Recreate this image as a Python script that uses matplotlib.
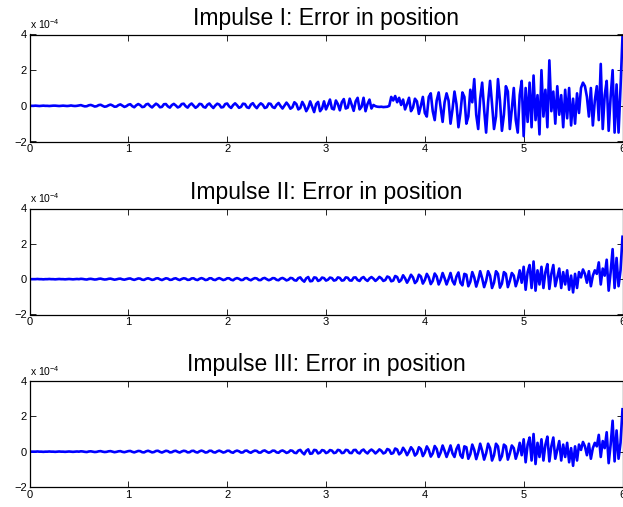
import matplotlib
matplotlib.use("Agg")
import matplotlib.pyplot as plt
import numpy as np

plt.rcParams['font.family'] = ['Liberation Sans', 'DejaVu Sans']

# time axis, step 0.02 s
t = np.linspace(0, 6, 301)

titles = ["Impulse I: Error in position",
          "Impulse II: Error in position",
          "Impulse III: Error in position"]
xticks = [0, 1, 2, 3, 4, 5, 6]
yticks = [-2, 0, 2, 4]

# errors in units of 1e-4
err1 = [
    0, 0, 0, 0.01, 0, -0.01, 0, 0.01, 0, 0, -0.01, 0, 0.01, 0.01, 0, -0.01, 0, 0.01, 0, -0.01, 0, 0.02, 0, -0.01, 0,
    0.02, 0.04, 0, -0.03, -0.02, 0.03, 0.05, 0.01, -0.04, -0.02, 0.04, 0.06, 0, -0.05, -0.03, 0.03, 0.07, 0.02, -0.05, -0.04, 0.04, 0.08, 0.01, -0.06, -0.02,
    0.06, 0.09, -0.02, -0.08, 0.03, 0.1, 0.04, -0.07, -0.05, 0.08, 0.11, -0.01, -0.09, 0.02, 0.12, 0.05, -0.08, -0.06, 0.09, 0.1, -0.03, -0.1, 0.04, 0.11, 0.02,
    -0.09, -0.04, 0.1, 0.12, -0.02, -0.1, 0.05, 0.13, 0.01, -0.11, -0.03, 0.11, 0.09, -0.06, -0.1, 0.06, 0.13, -0.01, -0.12, 0.02, 0.12, 0.07, -0.09, -0.07, 0.1,
    0.13, -0.03, -0.12, 0.04, 0.14, 0.03, -0.11, -0.06, 0.12, 0.1, -0.08, -0.12, 0.07, 0.15, -0.02, -0.13, 0.03, 0.14, 0.06, -0.12, -0.08, 0.13, 0.11, -0.07, -0.12,
    0.06, 0.16, -0.01, -0.15, 0.02, 0.18, 0.04, -0.16, -0.08, 0.2, 0.1, -0.2, -0.12, 0.22, 0.02, -0.3, -0.1, 0.25, -0.05, -0.35, 0.1, 0.22, -0.3, -0.15, 0.25,
    -0.2, 0.05, 0.35, -0.15, -0.2, 0.3, 0.1, -0.25, 0.2, 0.38, -0.15, -0.1, 0.4, 0.05, -0.28, 0.25, 0.45, -0.2, -0.05, 0.45, -0.3, 0.1, 0.35, -0.15, 0.05,
    -0.02, -0.05, -0.06, -0.05, -0.07, -0.06, -0.05, 0.0, 0.5, 0.3, 0.55, 0.2, 0.45, 0.05, 0.35, -0.2, 0.1, 0.45, -0.3, -0.1, 0.4, 0.25, -0.45, 0.0, 0.5,
    -0.4, -0.6, 0.5, 0.7, -0.3, -0.8, 0.3, 0.75, -0.1, -0.9, 0.2, 0.7, 0.3, -1.0, -0.2, 0.8, 0.1, -1.2, -0.4, 0.75, 0.5, -1.0, -0.6, 0.9, 0.2,
    1.5, -0.5, -1.3, 0.4, 1.3, -0.2, -1.5, 0.2, 1.4, 0.1, -1.3, -0.6, 1.5, 0.3, -1.4, -0.5, 1.1, 0.8, -1.3, -0.2, 1.0, -0.8, -1.5, 0.6, 1.4,
    -1.7, 1.0, -0.9, 1.3, -1.2, 1.7, -0.8, 0.6, -1.6, 2.0, -0.6, 0.9, -1.2, 2.55, -0.3, 0.8, -1.0, 1.1, -0.5, 0.6, -1.2, 0.9, -0.7, 1.0, -1.1,
    0.4, -1.0, 0.7, -0.4, 1.0, 1.3, 1.1, 0.5, -0.6, 1.0, -1.1, 0.3, 1.1, -0.8, 2.35, -1.3, 0.6, 1.4, -1.4, 0.5, 2.0, -1.5, 1.2, -1.5, 1.0,
    3.9,
]

err2 = [
    0, 0, 0, 0, 0.01, 0, 0, -0.01, 0, 0, 0.01, 0, 0, -0.01, 0, 0.01, 0, 0, -0.01, 0, 0.01, 0, -0.01, 0, 0.01,
    0, 0.02, 0.01, -0.01, -0.02, 0.01, 0.02, 0, -0.02, -0.01, 0.02, 0.03, 0, -0.02, -0.01, 0.02, 0.03, 0, -0.03, -0.01, 0.02, 0.03, -0.01, -0.03, 0,
    0.03, 0.04, -0.01, -0.04, 0, 0.04, 0.03, -0.03, -0.04, 0.02, 0.05, 0.01, -0.04, -0.02, 0.04, 0.05, -0.01, -0.05, 0, 0.05, 0.03, -0.04, -0.03, 0.03, 0.05,
    -0.01, -0.05, 0.01, 0.05, 0.03, -0.04, -0.03, 0.04, 0.05, -0.02, -0.05, 0.02, 0.06, 0.02, -0.05, -0.03, 0.05, 0.05, -0.03, -0.05, 0.02, 0.06, 0.01, -0.05, -0.02,
    0.05, 0.05, -0.03, -0.06, 0.02, 0.06, 0.02, -0.05, -0.04, 0.05, 0.06, -0.02, -0.06, 0.01, 0.06, 0.04, -0.05, -0.05, 0.04, 0.07, 0, -0.06, -0.02, 0.06, 0.05,
    -0.04, -0.06, 0.03, 0.07, 0.01, -0.07, -0.03, 0.07, 0.05, -0.06, -0.08, 0.06, 0.1, -0.05, -0.14, 0.05, 0.12, -0.12, -0.1, 0.1, 0.08, -0.1, -0.05, 0.09, 0.06,
    -0.08, -0.03, 0.09, 0.06, -0.08, -0.05, 0.1, 0.07, -0.08, -0.06, 0.1, 0.08, -0.07, -0.08, 0.09, 0.1, -0.05, -0.1, 0.06, 0.12, -0.02, -0.1, 0.04, 0.12, 0.03,
    -0.1, 0.0, 0.13, 0.05, -0.1, -0.05, 0.15, 0.1, -0.12, -0.08, 0.18, 0.12, -0.15, -0.05, 0.22, 0.05, -0.2, 0.0, 0.25, 0.1, -0.22, -0.1, 0.25, 0.15, -0.25,
    -0.05, 0.3, 0.1, -0.28, -0.1, 0.32, 0.15, -0.3, -0.05, 0.35, 0.05, -0.3, 0.0, 0.35, -0.1, -0.3, 0.15, 0.38, -0.2, -0.35, 0.3, 0.25, -0.4, -0.15, 0.4,
    0.1, -0.42, -0.05, 0.45, 0.05, -0.45, -0.1, 0.45, 0.2, -0.5, -0.2, 0.45, 0.3, -0.48, -0.25, 0.4, 0.3, -0.45, -0.1, 0.35, 0.2, -0.4, -0.05, 0.5, -0.2,
    0.7, -0.6, 0.4, 0.8, -0.5, 1.0, -0.65, 0.5, -0.3, 0.7, -0.5, 0.4, 0.85, -0.55, 0.3, 0.8, -0.4, 0.1, 0.6, -0.5, 0.4, -0.3, 0.5, -0.6, 0.2,
    -0.75, 0.3, -0.5, 0.4, 0.1, 0.55, 0.3, -0.2, 0.45, -0.4, 0.2, 0.5, 0.3, 0.95, -0.3, 0.6, 0.2, 1.1, -0.65, 0.4, 1.7, -0.5, 1.2, -0.4, 0.5,
    2.4,
]

err3 = [
    0, 0, 0, 0, 0.01, 0, 0, -0.01, 0, 0, 0.01, 0, 0, -0.01, 0, 0.01, 0, 0, -0.01, 0, 0.01, 0, -0.01, 0, 0.01,
    0, 0.02, 0.01, -0.01, -0.02, 0.01, 0.02, 0, -0.02, -0.01, 0.02, 0.03, 0, -0.02, -0.01, 0.02, 0.03, 0, -0.03, -0.01, 0.02, 0.03, -0.01, -0.03, 0,
    0.03, 0.04, -0.01, -0.04, 0, 0.04, 0.03, -0.03, -0.04, 0.02, 0.05, 0.01, -0.04, -0.02, 0.04, 0.05, -0.01, -0.05, 0, 0.05, 0.03, -0.04, -0.03, 0.03, 0.05,
    -0.01, -0.05, 0.01, 0.05, 0.03, -0.04, -0.03, 0.04, 0.05, -0.02, -0.05, 0.02, 0.06, 0.02, -0.05, -0.03, 0.05, 0.05, -0.03, -0.05, 0.02, 0.06, 0.01, -0.05, -0.02,
    0.05, 0.05, -0.03, -0.06, 0.02, 0.06, 0.02, -0.05, -0.04, 0.05, 0.06, -0.02, -0.06, 0.01, 0.06, 0.04, -0.05, -0.05, 0.04, 0.07, 0, -0.06, -0.02, 0.06, 0.05,
    -0.04, -0.06, 0.03, 0.07, 0.01, -0.07, -0.03, 0.07, 0.05, -0.06, -0.08, 0.06, 0.1, -0.05, -0.15, 0.05, 0.13, -0.12, -0.1, 0.1, 0.08, -0.1, -0.05, 0.09, 0.06,
    -0.08, -0.03, 0.09, 0.06, -0.08, -0.05, 0.1, 0.07, -0.08, -0.06, 0.1, 0.08, -0.07, -0.08, 0.09, 0.1, -0.05, -0.1, 0.06, 0.12, -0.02, -0.1, 0.04, 0.12, 0.03,
    -0.1, 0.0, 0.13, 0.05, -0.1, -0.05, 0.15, 0.1, -0.12, -0.08, 0.18, 0.12, -0.15, -0.05, 0.22, 0.05, -0.2, 0.0, 0.25, 0.1, -0.22, -0.1, 0.25, 0.15, -0.25,
    -0.05, 0.3, 0.1, -0.28, -0.1, 0.32, 0.15, -0.3, -0.05, 0.35, 0.05, -0.3, 0.0, 0.35, -0.1, -0.3, 0.15, 0.38, -0.2, -0.35, 0.3, 0.25, -0.4, -0.15, 0.4,
    0.1, -0.42, -0.05, 0.45, 0.05, -0.45, -0.1, 0.45, 0.2, -0.5, -0.2, 0.45, 0.3, -0.48, -0.25, 0.4, 0.3, -0.45, -0.1, 0.35, 0.2, -0.4, -0.05, 0.5, -0.2,
    0.7, -0.6, 0.4, 0.8, -0.5, 1.0, -0.7, 0.5, -0.3, 0.7, -0.5, 0.4, 0.85, -0.55, 0.3, 0.8, -0.4, 0.1, 0.6, -0.5, 0.4, -0.3, 0.5, -0.6, 0.2,
    -0.8, 0.3, -0.5, 0.4, 0.1, 0.55, 0.3, -0.2, 0.45, -0.4, 0.2, 0.5, 0.3, 0.95, -0.3, 0.6, 0.2, 1.1, -0.65, 0.4, 1.75, -0.55, 1.2, -0.4, 0.5,
    2.4,
]

W, H = 623, 507
fig = plt.figure(figsize=(W / 100, H / 100), dpi=100)

# axes rectangles in pixels: (left, top, right, bottom)
boxes = [(29.5, 34.5, 622.5, 141.5),
         (29.5, 208.5, 622.5, 314.5),
         (29.5, 381, 622.5, 487)]

for (l, tp, r, b), title, err in zip(boxes, titles, [err1, err2, err3]):
    ax = fig.add_axes([l / W, 1 - b / H, (r - l) / W, (b - tp) / H])
    ax.plot(t, err, color='#0000ff', lw=1.9)
    ax.set_xlim(0, 6)
    ax.set_ylim(-2, 4)
    ax.set_xticks(xticks)
    ax.set_yticks(yticks)
    ax.set_yticklabels(['\u22122', '0', '2', '4'])
    ax.tick_params(direction='in', length=4, width=0.6, labelsize=8,
                   top=True, right=True, pad=2)
    for s in ax.spines.values():
        s.set_linewidth(0.9)
    ax.set_title(title, fontsize=16.5, pad=7)
    ax.text(0, 1.03, 'x 10$^{\\mathregular{\u22124}}$', transform=ax.transAxes,
            fontsize=7.5, ha='left', va='bottom')

fig.savefig('out.png', dpi=100)
